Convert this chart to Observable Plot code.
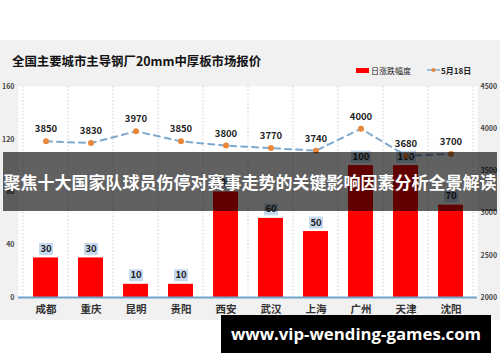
<!DOCTYPE html>
<html>
<head>
<meta charset="utf-8">
<script src="https://cdn.jsdelivr.net/npm/d3@7"></script>
<script src="https://cdn.jsdelivr.net/npm/@observablehq/plot@0.6"></script>
<style>
  html, body { margin: 0; padding: 0; background: #fff; }
  #wrap { position: relative; width: 500px; height: 362px; overflow: hidden; background: #fff;
    font-family: "Noto Sans CJK SC", "Noto Sans", sans-serif; }
  #bg { position: absolute; left: 0; top: 40px; width: 500px; height: 280px; background: #f1f1f1; }
  #chart { position: absolute; left: 0; top: 0; }
  #title { position: absolute; left: 12px; top: 52px; font-size: 12.4px; font-weight: bold; color: #111; line-height: 18px; white-space: nowrap; }
  .leg { position: absolute; font-size: 8px; line-height: 10px; color: #222; white-space: nowrap; }
  #banner { position: absolute; left: 3px; top: 152px; width: 494px; height: 59px; background: rgba(0,0,0,0.62);
    color: #fff; font-size: 17px; font-weight: bold; line-height: 59px; text-align: center; white-space: nowrap; }
  #site { position: absolute; left: 221px; top: 315px; width: 270px; height: 38px; background: #000;
    color: #fff; font-family: "Open Sans", sans-serif; font-size: 16.8px; font-weight: bold; line-height: 38px; text-align: center; white-space: nowrap; }
</style>
</head>
<body>
<div id="wrap">
  <div id="bg"></div>
  <div id="chart"></div>
  <div id="title">全国主要城市主导钢厂20mm中厚板市场报价</div>
  <div class="leg" style="left:356px; top:66px;"><span style="display:inline-block;width:13px;height:5px;background:#ff0000;vertical-align:1px;margin-right:2px;"></span>日涨跌幅度</div>
  <div class="leg" style="left:427px; top:66px; font-weight:bold;"><svg width="13" height="8" style="vertical-align:0px;margin-right:1px;"><line x1="0" y1="4" x2="13" y2="4" stroke="#7fa8cd" stroke-width="1.5"/><circle cx="6.5" cy="4" r="2" fill="#e8873a"/></svg>5月18日</div>
  <div id="banner">聚焦十大国家队球员伤停对赛事走势的关键影响因素分析全景解读</div>
  <div id="site">www.vip-wending-games.com</div>
</div>
<script>
const cities = ["成都","重庆","昆明","贵阳","西安","武汉","上海","广州","天津","沈阳"];
const change = [30,30,10,10,80,60,50,100,100,70];
const price = [3850,3830,3970,3850,3800,3770,3740,4000,3680,3700];
const leftTicks = [0,40,80,120,160];
const rightTicks = [2000,2500,3000,3500,4000,4500];
const leftMax = 160, rightMin = 2000, rightMax = 4500;

const toLeft = p => (p - rightMin) / (rightMax - rightMin) * leftMax;
const data = cities.map((c, i) => ({city: c, change: change[i], price: price[i], p: toLeft(price[i])}));

const boxSymbol = w => ({draw(ctx) { ctx.rect(-w / 2, -6, w, 12); }});

const gridMark = (index, scales, values, dims) => {
  const x = scales.x;
  const bw = x.bandwidth();
  const g = d3.create("svg:g");
  const xs = cities.map(c => x(c)).concat([x(cities[cities.length - 1]) + bw]);
  for (const xv of xs) {
    g.append("line")
      .attr("x1", xv).attr("x2", xv)
      .attr("y1", dims.marginTop).attr("y2", dims.height - dims.marginBottom)
      .attr("stroke", "#cfcfcf").attr("stroke-dasharray", "1.5,2");
  }
  return g.node();
};

const chart = Plot.plot({
  width: 500,
  height: 362,
  marginTop: 86,
  marginBottom: 65,
  marginLeft: 18,
  marginRight: 23,
  style: {background: "transparent", fontFamily: "'Noto Sans CJK SC', sans-serif"},
  x: {domain: cities, padding: 0, axis: null},
  y: {domain: [0, leftMax], axis: null},
  marks: [
    Plot.frame({fill: "#fff", stroke: "none"}),
    gridMark,
    Plot.barY(data, {x: "city", y: "change", fill: "#ff0000", insetLeft: 10, insetRight: 10}),
    Plot.ruleY([0], {stroke: "#72a3cc", strokeWidth: 2}),
    Plot.dot(data.filter(d => String(d.change).length < 3), {x: "city", y: "change", dy: -9, symbol: boxSymbol(14), fill: "#c6daef", stroke: "none"}),
    Plot.dot(data.filter(d => String(d.change).length >= 3), {x: "city", y: "change", dy: -9, symbol: boxSymbol(20), fill: "#c6daef", stroke: "none"}),
    Plot.text(data, {x: "city", y: "change", text: d => String(d.change), dy: -9, fontSize: 9.5, fontWeight: "bold", fill: "#222"}),
    Plot.line(data, {x: "city", y: "p", stroke: "#7fa8cd", strokeWidth: 2, strokeDasharray: "6,5"}),
    Plot.dot(data, {x: "city", y: "p", r: 3, fill: "#e8873a", stroke: "none"}),
    Plot.text(data, {x: "city", y: "p", text: d => String(d.price), dy: -12, fontSize: 9.5, fontWeight: "bold", fill: "#222"}),
    Plot.axisY(leftTicks, {anchor: "left", tickSize: 0, tickPadding: 4, fontSize: 7, fontWeight: "bold", fill: "#444"}),
    Plot.axisY(rightTicks.map(toLeft), {anchor: "right", tickSize: 0, tickPadding: 3, fontSize: 7, fontWeight: "bold", fill: "#444",
      tickFormat: d => String(Math.round(rightMin + d / leftMax * (rightMax - rightMin)))}),
    Plot.axisX(cities, {anchor: "bottom", tickSize: 0, tickPadding: 8, fontSize: 10.5, fontWeight: "bold", fill: "#333", label: null})
  ]
});
document.getElementById("chart").appendChild(chart);
</script>
</body>
</html>
